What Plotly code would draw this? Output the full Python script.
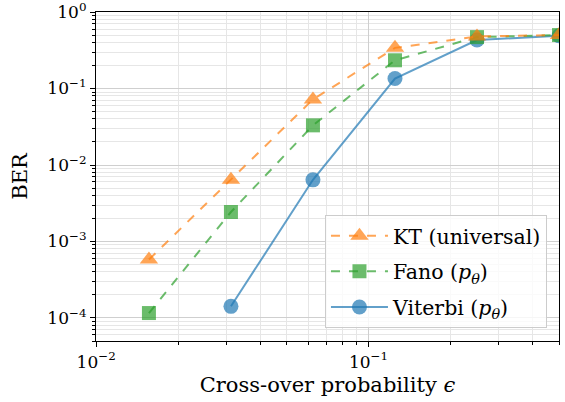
import numpy as np
import plotly.graph_objects as go

eps = [1/64, 1/32, 1/16, 1/8, 1/4, 1/2]
ber_kt = [5.8e-4, 6.4e-3, 0.072, 0.34, 0.48, 0.50]
eps_fano = [1/64, 1/32, 1/16, 1/8, 1/4, 1/2]
ber_fano = [1.16e-4, 2.43e-3, 0.033, 0.234, 0.47, 0.50]
eps_vit = [1/32, 1/16, 1/8, 1/4, 1/2]
ber_vit = [1.42e-4, 6.4e-3, 0.135, 0.43, 0.49]

x_major = [0.01, 0.1]
x_major_text = ["10<sup>−2</sup>", "10<sup>−1</sup>"]
y_major = [1e-4, 1e-3, 1e-2, 1e-1, 1]
y_major_text = ["10<sup>−4</sup>", "10<sup>−3</sup>", "10<sup>−2</sup>", "10<sup>−1</sup>", "10<sup>0</sup>"]

x_minor = [m * 10.0**k for k in (-2, -1) for m in range(2, 10) if m * 10.0**k <= 0.5]
y_minor = [m * 10.0**k for k in (-5, -4, -3, -2, -1) for m in range(2, 10) if m * 10.0**k >= 5e-5]

BLUE = "31,119,180"
GREEN = "44,160,44"
ORANGE = "255,127,14"
A = 0.7
FONT = "DejaVu Serif"

fig = go.Figure()
fig.add_trace(go.Scatter(
    x=eps_vit, y=ber_vit, mode="lines+markers", name="Viterbi (<i>p<sub>θ</sub></i>)",
    line=dict(color=f"rgba({BLUE},{A})", width=2),
    marker=dict(symbol="circle", size=15, color=f"rgba({BLUE},{A})", line=dict(width=0)),
    legendgroup="v", legendrank=3,
))
fig.add_trace(go.Scatter(
    x=eps_fano, y=ber_fano, mode="lines+markers", name="Fano (<i>p<sub>θ</sub></i>)",
    line=dict(color=f"rgba({GREEN},{A})", width=2, dash="dash"),
    marker=dict(symbol="square", size=14, color=f"rgba({GREEN},{A})", line=dict(width=0)),
    legendgroup="f", legendrank=2,
))
fig.add_trace(go.Scatter(
    x=eps, y=ber_kt, mode="lines+markers", name="KT (universal)",
    line=dict(color=f"rgba({ORANGE},{A})", width=2, dash="dash"),
    marker=dict(symbol="triangle-up", size=16, color=f"rgba({ORANGE},{A})", line=dict(width=0)),
    legendgroup="k", legendrank=1,
))

axis_common = dict(
    type="log", automargin=False, ticklabeloverflow="allow",
    showline=True, linecolor="black", linewidth=1.2, mirror=True,
    ticks="outside", ticklen=5, tickwidth=1, tickcolor="black",
    showgrid=True, gridcolor="#cfcfcf", gridwidth=1,
    zeroline=False,
    tickfont=dict(family=FONT, size=17, color="black"),
)

fig.update_xaxes(
    **axis_common,
    range=[np.log10(0.01) - 0.0005, np.log10(0.5)],
    tickmode="array", tickvals=x_major, ticktext=x_major_text,
    minor=dict(tickmode="array", tickvals=x_minor, ticks="outside", ticklen=3,
               tickcolor="black", showgrid=True, gridcolor="#e6e6e6", gridwidth=1),
    title=dict(text="Cross-over probability <i>ϵ</i>", font=dict(family=FONT, size=21, color="black"), standoff=6),
)
fig.update_yaxes(
    **axis_common,
    range=[np.log10(5e-5), 0.0005],
    tickmode="array", tickvals=y_major, ticktext=y_major_text,
    minor=dict(tickmode="array", tickvals=y_minor, ticks="outside", ticklen=3,
               tickcolor="black", showgrid=True, gridcolor="#e6e6e6", gridwidth=1),
    title=dict(text="BER", font=dict(family=FONT, size=21, color="black"), standoff=13),
)

fig.update_layout(
    width=565, height=402,
    margin=dict(l=96, r=6, t=12, b=61),
    plot_bgcolor="white", paper_bgcolor="white",
    font=dict(family=FONT, size=17, color="black"),
    legend=dict(
        x=0.974, y=0.04, xanchor="right", yanchor="bottom",
        bgcolor="rgba(255,255,255,0.8)", bordercolor="#cccccc", borderwidth=1,
        font=dict(family=FONT, size=20.5, color="black"),
        traceorder="grouped", tracegroupgap=6, itemwidth=57,
    ),
    showlegend=True,
)

fig.write_html("out.html", config={"displayModeBar": False},
               post_script="document.body.style.margin='0';document.body.style.overflow='hidden';")
